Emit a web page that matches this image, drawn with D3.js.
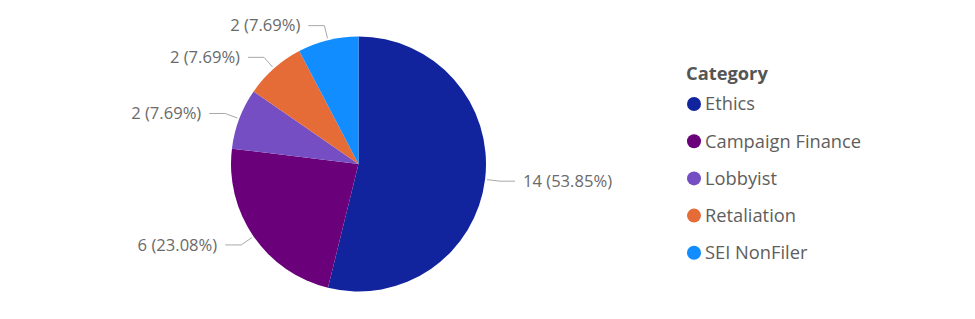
<!DOCTYPE html>
<html>
<head>
<meta charset="utf-8">
<script src="https://cdn.jsdelivr.net/npm/d3@7"></script>
<style>
  body { margin: 0; background: #fff; }
  text { font-family: "Segoe UI", "Open Sans", sans-serif; }
</style>
</head>
<body>
<div id="chart"></div>
<script>
const categories = ["Ethics", "Campaign Finance", "Lobbyist", "Retaliation", "SEI NonFiler"];
const counts = [14, 6, 2, 2, 2];
const colors = ["#12239E", "#6B007B", "#744EC2", "#E66C37", "#118DFF"];

const width = 975, height = 319;
const cx = 358.5, cy = 164, radius = 127.5;

const svg = d3.select("#chart").append("svg")
  .attr("width", width)
  .attr("height", height);

const data = categories.map((c, i) => ({ category: c, value: counts[i], color: colors[i] }));
const total = d3.sum(counts);

const pie = d3.pie().value(d => d.value).sort(null);
const arcs = pie(data);
const arc = d3.arc().innerRadius(0).outerRadius(radius);

const g = svg.append("g").attr("transform", `translate(${cx},${cy})`);

g.selectAll("path")
  .data(arcs)
  .join("path")
  .attr("d", arc)
  .attr("fill", d => d.data.color);

// Leader lines + labels
const pt = (a, r) => [r * Math.sin(a), -r * Math.cos(a)];
const fmt = d3.format(".2f");

arcs.forEach(d => {
  const mid = (d.startAngle + d.endAngle) / 2;
  const right = Math.sin(mid) > 0;
  const p0 = pt(mid, radius + 2);
  const p1 = pt(mid, radius + 15);
  const p2 = [p1[0] + (right ? 15 : -16), p1[1]];

  g.append("polyline")
    .attr("points", [p0, p1, p2].map(p => p.join(",")).join(" "))
    .attr("fill", "none")
    .attr("stroke", "#a8a8a8")
    .attr("stroke-width", 1);

  g.append("text")
    .attr("x", p2[0] + (right ? 8 : -8))
    .attr("y", p2[1])
    .attr("dy", "0.35em")
    .attr("text-anchor", right ? "start" : "end")
    .attr("font-size", 16.6)
    .attr("fill", "#6a6a6a")
    .text(`${d.data.value} (${fmt(d.data.value / total * 100)}%)`);
});

// Legend
const legend = svg.append("g").attr("transform", "translate(686,0)");
legend.append("text")
  .attr("x", 0).attr("y", 74)
  .attr("dy", "0.35em")
  .attr("font-size", 18.3)
  .attr("font-weight", 700)
  .attr("fill", "#555")
  .text("Category");

const items = legend.selectAll("g.item")
  .data(data)
  .join("g")
  .attr("class", "item")
  .attr("transform", (d, i) => `translate(0,${104 + i * 37.2})`);

items.append("circle")
  .attr("cx", 8).attr("cy", 0).attr("r", 7)
  .attr("fill", d => d.color);

items.append("text")
  .attr("x", 19).attr("y", 0)
  .attr("dy", "0.35em")
  .attr("font-size", 18.3)
  .attr("fill", "#605E5C")
  .text(d => d.category);
</script>
</body>
</html>
